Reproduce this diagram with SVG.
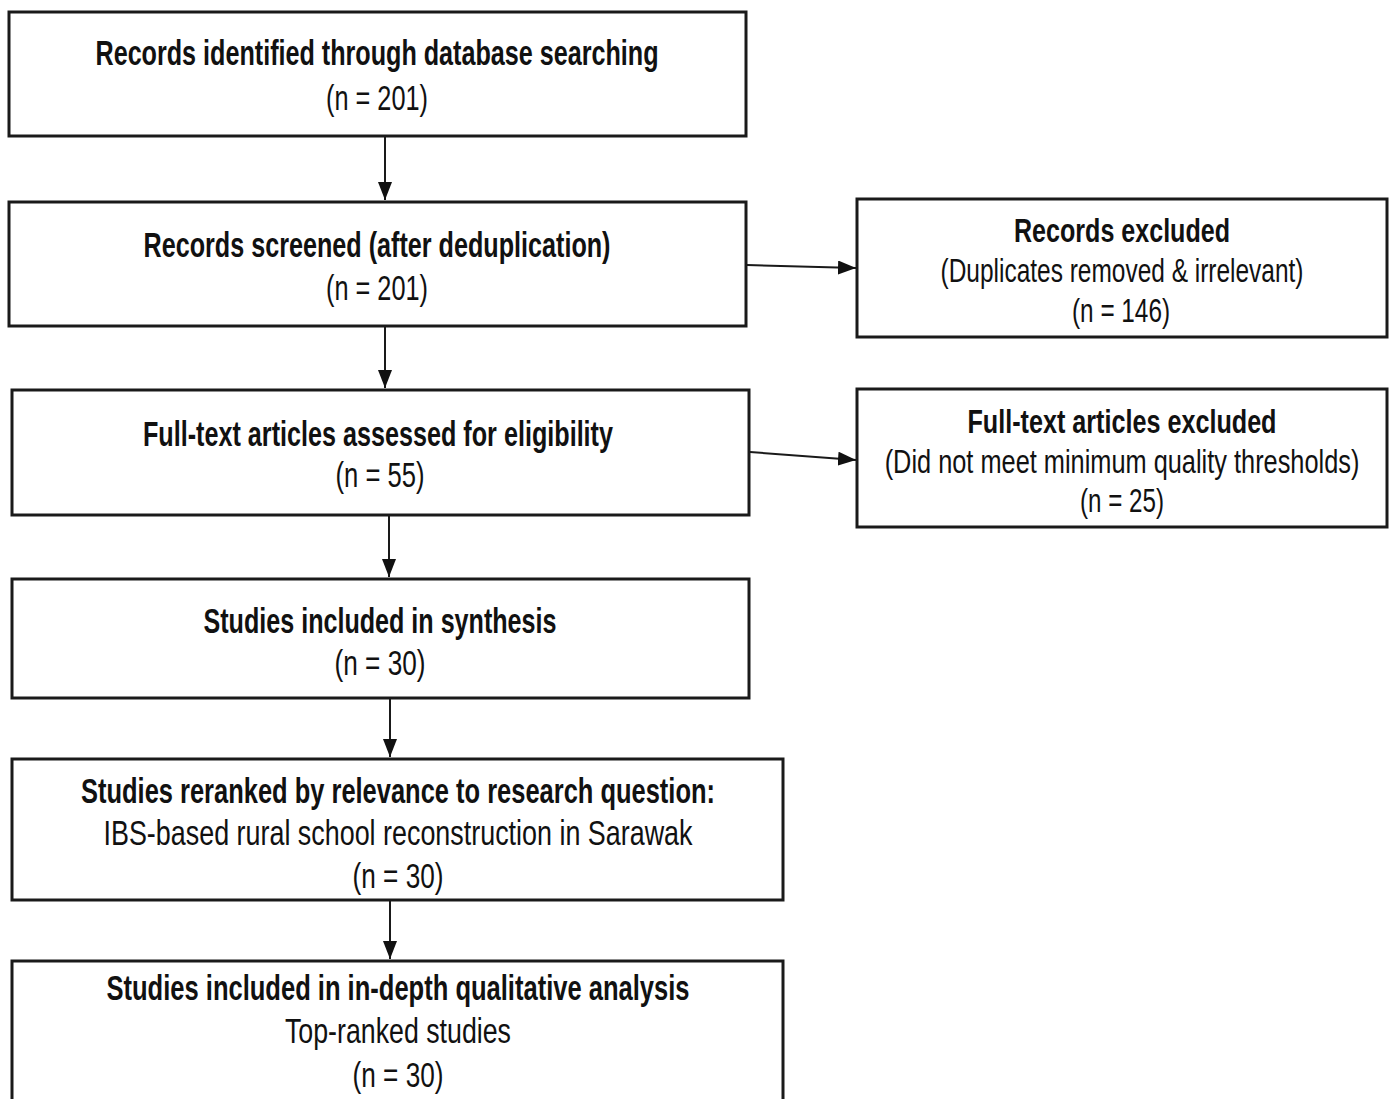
<svg xmlns="http://www.w3.org/2000/svg" width="1395" height="1099" viewBox="0 0 1395 1099">
<style>
.box{fill:#fff;stroke:#1a1a1a;stroke-width:3}
.t{font-family:"Liberation Sans Narrow","Liberation Sans",Arial,sans-serif;font-size:35px;fill:#111;text-anchor:middle}
.b{font-weight:bold}
.r{font-size:33px}
.c{fill:none;stroke:#1a1a1a;stroke-width:2}
</style>
<defs>
<marker id="ah" viewBox="0 0 18 14" refX="18" refY="7" markerWidth="18" markerHeight="14" markerUnits="userSpaceOnUse" orient="auto">
<path d="M0,0 L18,7 L0,14 z" fill="#111"/>
</marker>
</defs>
<rect width="1395" height="1099" fill="#fff"/>
<g id="connectors">
<line class="c" x1="385" y1="137" x2="385" y2="200" marker-end="url(#ah)"/>
<line class="c" x1="385" y1="327" x2="385" y2="388" marker-end="url(#ah)"/>
<line class="c" x1="389" y1="516" x2="389" y2="577" marker-end="url(#ah)"/>
<line class="c" x1="390" y1="699" x2="390" y2="757" marker-end="url(#ah)"/>
<line class="c" x1="390" y1="901" x2="390" y2="959" marker-end="url(#ah)"/>
<line class="c" x1="747" y1="265" x2="856" y2="268" marker-end="url(#ah)"/>
<line class="c" x1="750" y1="452" x2="856" y2="460" marker-end="url(#ah)"/>
</g>
<g id="n1">
<rect class="box" x="9" y="12" width="737" height="124"/>
<text class="t b" x="377" y="65" textLength="563" lengthAdjust="spacingAndGlyphs">Records identified through database searching</text>
<text class="t" x="377" y="110" textLength="102" lengthAdjust="spacingAndGlyphs">(n = 201)</text>
</g>
<g id="n2">
<rect class="box" x="9" y="202" width="737" height="124"/>
<text class="t b" x="377" y="257" textLength="467" lengthAdjust="spacingAndGlyphs">Records screened (after deduplication)</text>
<text class="t" x="377" y="300" textLength="102" lengthAdjust="spacingAndGlyphs">(n = 201)</text>
</g>
<g id="n3">
<rect class="box" x="12" y="390" width="737" height="125"/>
<text class="t b" x="378" y="446" textLength="470" lengthAdjust="spacingAndGlyphs">Full-text articles assessed for eligibility</text>
<text class="t" x="380" y="487" textLength="89" lengthAdjust="spacingAndGlyphs">(n = 55)</text>
</g>
<g id="n4">
<rect class="box" x="12" y="579" width="737" height="119"/>
<text class="t b" x="380" y="633" textLength="353" lengthAdjust="spacingAndGlyphs">Studies included in synthesis</text>
<text class="t" x="380" y="675" textLength="91" lengthAdjust="spacingAndGlyphs">(n = 30)</text>
</g>
<g id="n5">
<rect class="box" x="12" y="759" width="771" height="141"/>
<text class="t b" x="398" y="803" textLength="634" lengthAdjust="spacingAndGlyphs">Studies reranked by relevance to research question:</text>
<text class="t" x="398" y="845" textLength="589" lengthAdjust="spacingAndGlyphs">IBS-based rural school reconstruction in Sarawak</text>
<text class="t" x="398" y="888" textLength="91" lengthAdjust="spacingAndGlyphs">(n = 30)</text>
</g>
<g id="n6">
<rect class="box" x="12" y="961" width="771" height="142"/>
<text class="t b" x="398" y="1000" textLength="583" lengthAdjust="spacingAndGlyphs">Studies included in in-depth qualitative analysis</text>
<text class="t" x="398" y="1043" textLength="226" lengthAdjust="spacingAndGlyphs">Top-ranked studies</text>
<text class="t" x="398" y="1087" textLength="91" lengthAdjust="spacingAndGlyphs">(n = 30)</text>
</g>
<g id="n7">
<rect class="box" x="857" y="199" width="530" height="138"/>
<text class="t r b" x="1122" y="242" textLength="216" lengthAdjust="spacingAndGlyphs">Records excluded</text>
<text class="t r" transform="translate(1122,282) scale(0.75,1)" x="0" y="0" textLength="484" lengthAdjust="spacingAndGlyphs">(Duplicates removed &amp; irrelevant)</text>
<text class="t r" x="1121" y="322" textLength="98" lengthAdjust="spacingAndGlyphs">(n = 146)</text>
</g>
<g id="n8">
<rect class="box" x="857" y="389" width="530" height="138"/>
<text class="t r b" x="1122" y="433" textLength="309" lengthAdjust="spacingAndGlyphs">Full-text articles excluded</text>
<text class="t r" transform="translate(1122,473) scale(0.75,1)" x="0" y="0" textLength="633" lengthAdjust="spacingAndGlyphs">(Did not meet minimum quality thresholds)</text>
<text class="t r" x="1122" y="512" textLength="84" lengthAdjust="spacingAndGlyphs">(n = 25)</text>
</g>
</svg>
